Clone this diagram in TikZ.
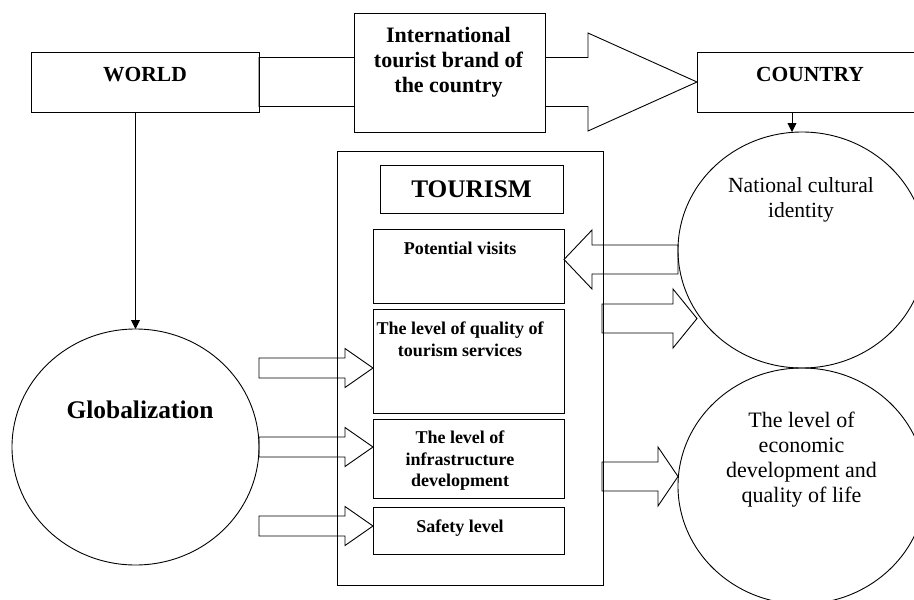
\documentclass[tikz,border=0pt]{standalone}
\usepackage{fontspec}
\setmainfont{Liberation Serif}
\usetikzlibrary{shapes.geometric,arrows.meta,calc}
\tikzset{
  ln/.style={line width=0.9pt},
  boxn/.style={draw, ln, inner sep=0pt, outer sep=0pt},
  ell/.style={draw, ln, ellipse, inner sep=0pt, outer sep=0pt},
  blk/.style={ln, line join=miter},
  ptr/.style={ln, -{Triangle[length=9pt,width=9pt]}},
  bigb/.style={font=\fontsize{21.5}{25}\selectfont\bfseries, inner sep=0pt},
  smb/.style={font=\fontsize{18}{21.5}\selectfont\bfseries, inner sep=0pt, align=center},
  reg/.style={font=\fontsize{21.6}{25.5}\selectfont, inner sep=0pt, align=center},
}
% #1 start, #2 tip, #3 shaft half, #4 head half, #5 signed head length
\newcommand\blockarrow[5]{\draw[blk] let \p1=(#1), \p2=(#2) in
  (\x1,{\y1+#3pt}) -- ({\x2-(#5pt)},{\y1+#3pt}) -- ({\x2-(#5pt)},{\y1+#4pt}) -- (\x2,\y1)
  -- ({\x2-(#5pt)},{\y1-#4pt}) -- ({\x2-(#5pt)},{\y1-#3pt}) -- (\x1,{\y1-#3pt}) -- cycle;}
\begin{document}
\begin{tikzpicture}[x=1pt,y=-1pt]
\useasboundingbox (0,0) rectangle (914,600);
\clip (0,0) rectangle (914,600);
% boxes
\node[boxn, minimum width=228pt, minimum height=60pt] (world) at (145,82) {};
\node[boxn, minimum width=226pt, minimum height=60pt] (country) at (810,82) {};
% big arrow world -> country
\blockarrow{world.east}{country.west}{24.5}{49}{109}
\node[boxn, fill=white, minimum width=191pt, minimum height=119pt] (intl) at (449.5,72.5) {};
\node[boxn, minimum width=266pt, minimum height=434pt] (tour) at (470,368) {};
\node[boxn, minimum width=183pt, minimum height=48pt] (tttl) at (471.5,189) {};
\node[boxn, minimum width=191pt, minimum height=74pt] (pv) at (468.5,266) {};
\node[boxn, minimum width=191pt, minimum height=104pt] (qual) at (468.5,361) {};
\node[boxn, minimum width=191pt, minimum height=79pt] (infra) at (468.5,458.5) {};
\node[boxn, minimum width=191pt, minimum height=47pt] (safe) at (468.5,530.5) {};
% circles
\node[ell, minimum width=247pt, minimum height=236pt] (glob) at (135.5,447) {};
\node[ell, minimum width=248pt, minimum height=236pt] (nat) at (802,250) {};
\node[ell, minimum width=248pt, minimum height=236pt] (econ) at (802,486) {};
% texts
\node[bigb, anchor=base] (worldt) at (145,81) {WORLD};
\node[bigb, anchor=base] (countryt) at (810,81) {COUNTRY};
\node[font=\fontsize{22}{25}\selectfont\bfseries, inner sep=0pt, align=center, anchor=north] (intlt) at (448.5,27) {International\\tourist brand of\\the country};
\node[font=\fontsize{25.3}{30}\selectfont\bfseries, inner sep=0pt, anchor=base] (tttlt) at (471.5,197) {TOURISM};
\node[smb, anchor=base] (pvt) at (460,254) {Potential visits};
\node[smb, anchor=north] (qualt) at (460,321.7) {The level of quality of\\tourism services};
\node[smb, anchor=north] (infrat) at (460,430.7) {The level of\\infrastructure\\development};
\node[smb, anchor=base] (safet) at (460,532) {Safety level};
\node[font=\fontsize{25.4}{30}\selectfont\bfseries, inner sep=0pt, anchor=base] (globt) at (140,418) {Globalization};
\node[reg, anchor=north] (natt) at (801,177) {National cultural\\identity};
\node[font=\fontsize{22}{25}\selectfont, inner sep=0pt, align=center, anchor=north] (econt) at (801.5,412) {The level of\\economic\\development and\\quality of life};
% thin arrows
\draw[ptr] (world.south -| glob.north) -- (glob.north);
\coordinate (cdn) at (country.south -| 792,0);
\coordinate (ntop) at (792,132);
\draw[ptr] (cdn) -- (ntop);
% block arrows
\coordinate (g1s) at (glob.east |- 0,368);
\coordinate (g1t) at (qual.west |- 0,368);
\blockarrow{g1s}{g1t}{10}{19.5}{28}
\coordinate (g2t) at (infra.west |- glob.east);
\blockarrow{glob.east}{g2t}{10}{19.5}{28}
\coordinate (g3s) at (glob.east |- 0,526);
\coordinate (g3t) at (safe.west |- 0,526);
\blockarrow{g3s}{g3t}{10}{19.5}{28}
\coordinate (pvs) at (678,259.5);
\coordinate (pvtip) at (pv.east |- pvs);
\blockarrow{pvs}{pvtip}{14.5}{29.5}{-28}
\coordinate (tns) at (602,318.5);
\coordinate (tnt) at (697,318.5);
\blockarrow{tns}{tnt}{14.5}{29.5}{24}
\coordinate (tes) at (602,476.5);
\coordinate (tet) at (econ.west |- tes);
\blockarrow{tes}{tet}{14.5}{29.5}{20}
\end{tikzpicture}
\end{document}
